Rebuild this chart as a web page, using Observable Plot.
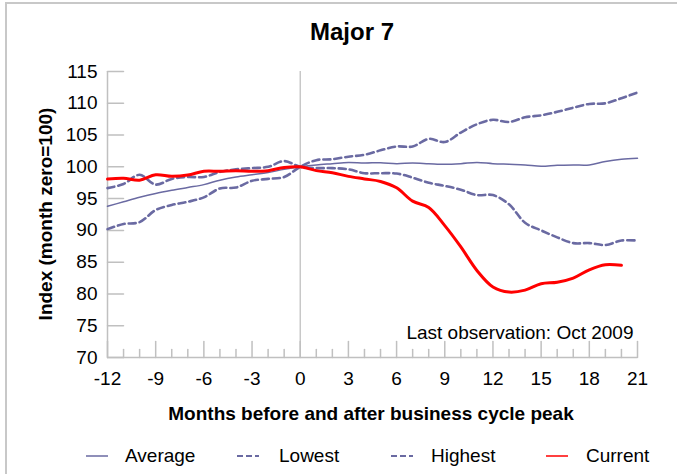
<!DOCTYPE html>
<html><head><meta charset="utf-8">
<script src="https://cdn.jsdelivr.net/npm/d3@7"></script>
<script src="https://cdn.jsdelivr.net/npm/@observablehq/plot@0.6"></script>
<style>
body{margin:0;background:#fff;font-family:"Liberation Sans",Arial,sans-serif;}
#wrap{position:relative;width:677px;height:474px;overflow:hidden;background:#fff;}
#wrap svg{position:absolute;left:0;top:0;}
#border{position:absolute;left:5px;top:2px;width:700px;height:500px;border-top:2px solid #c8c8c8;border-left:2px solid #c8c8c8;}
.t{position:absolute;white-space:nowrap;color:#000;line-height:1;}
</style></head><body>
<div id="wrap">
<div id="border"></div>
</div>
<script>
const months = [-12,-11,-10,-9,-8,-7,-6,-5,-4,-3,-2,-1,0,1,2,3,4,5,6,7,8,9,10,11,12,13,14,15,16,17,18,19,20,21];
const xTicks = [-12,-9,-6,-3,0,3,6,9,12,15,18,21];
const yTicks = [70,75,80,85,90,95,100,105,110,115];
const average = [93.8,94.5,95.2,95.8,96.3,96.75,97.2,97.9,98.4,98.75,99.1,99.6,100,100.3,100.5,100.7,100.6,100.65,100.5,100.6,100.5,100.4,100.5,100.7,100.5,100.4,100.3,100.1,100.25,100.3,100.3,100.85,101.2,101.35];
const lowest = [96.65,97.3,98.75,97.2,98.1,98.4,98.4,99.2,99.6,99.8,100,100.9,100,99.8,99.8,99.6,99.0,99.0,98.95,98.3,97.5,97.0,96.4,95.55,95.55,94.1,91.2,90.0,88.9,88.0,88.0,87.7,88.4,88.4];
const highest = [90.2,91.0,91.3,93.2,94.0,94.5,95.2,96.6,96.75,97.8,98.1,98.4,100,101.05,101.2,101.6,101.9,102.6,103.2,103.2,104.4,103.9,105.4,106.7,107.4,107.05,107.8,108.1,108.65,109.3,109.9,110.0,110.8,111.7];
const current = [98.07,98.2,97.9,98.75,98.5,98.7,99.3,99.3,99.4,99.3,99.4,99.9,100,99.4,99.06,98.5,98.1,97.7,96.7,94.6,93.6,90.75,87.4,83.7,81.1,80.3,80.6,81.6,81.85,82.5,83.8,84.6,84.5];
const seriesNames = ["Average","Lowest","Highest","Current"];

const blue = "#6a6aa2", red = "#ff0000", gray = "#c0c0c0";
const toRows = (vals) => vals.map((v,i) => ({m: months[i], v}));
const rowsAvg = toRows(average), rowsLow = toRows(lowest), rowsHigh = toRows(highest), rowsCur = toRows(current);

// plain tick shape (no arrowhead) for vector marks
const tickShape = {draw(context, l) { context.moveTo(0, 0); context.lineTo(0, -l); }};

const chart = Plot.plot({
  width: 677, height: 474,
  marginLeft: 107, marginRight: 40, marginTop: 71, marginBottom: 117,
  style: {fontFamily: "'Liberation Sans', Arial, sans-serif", fontSize: "19px", color: "#000", background: "transparent", overflow: "visible"},
  x: {domain: [-12, 21]},
  y: {domain: [70, 115]},
  marks: [
    Plot.ruleX([0], {stroke: gray, strokeWidth: 1.3}),
    Plot.ruleX([-12], {stroke: gray, strokeWidth: 1.5}),
    Plot.ruleY([70], {stroke: gray, strokeWidth: 1.5}),
    Plot.vector(yTicks, {x: () => -12, y: d => d, length: () => 10, rotate: () => 90, anchor: "start", shape: tickShape, stroke: gray, strokeWidth: 1.5}),
    Plot.vector(months, {x: d => d, y: 70, length: d => (d % 3 === 0 ? 10 : 5), rotate: 0, anchor: "start", shape: tickShape, stroke: gray, strokeWidth: 1.5}),
    Plot.axisY({ticks: yTicks, tickSize: 0, tickPadding: 10, label: null, tickFormat: d => d}),
    Plot.axisX({ticks: xTicks, tickSize: 0, tickPadding: 14, label: null, tickFormat: d => d}),
    Plot.line(rowsLow, {x: "m", y: "v", stroke: blue, strokeWidth: 2.6, strokeDasharray: "7,4", curve: "catmull-rom"}),
    Plot.line(rowsHigh, {x: "m", y: "v", stroke: blue, strokeWidth: 2.6, strokeDasharray: "7,4", curve: "catmull-rom"}),
    Plot.line(rowsAvg, {x: "m", y: "v", stroke: blue, strokeWidth: 1.5, curve: "catmull-rom"}),
    Plot.line(rowsCur, {x: "m", y: "v", stroke: red, strokeWidth: 3, curve: "catmull-rom"}),
    Plot.text(["Last observation: Oct 2009"], {frameAnchor: "bottom-right", textAnchor: "end", lineAnchor: "bottom", dx: -4, dy: -19, fontSize: 19, fill: "#000"})
  ]
});
const wrap = document.getElementById("wrap");
wrap.appendChild(chart);

function addText(txt, css) {
  const d = document.createElement("div");
  d.className = "t"; d.textContent = txt;
  Object.assign(d.style, css);
  wrap.appendChild(d);
  return d;
}
addText("Major 7", {left: "0px", width: "704px", textAlign: "center", top: "20px", fontSize: "24px", fontWeight: "bold"});
addText("Months before and after business cycle peak", {left: "0px", width: "742px", textAlign: "center", top: "404px", fontSize: "19px", fontWeight: "bold"});
addText("Index (month zero=100)", {left: "45px", top: "214px", fontSize: "19px", fontWeight: "bold", transform: "translate(-50%,-50%) rotate(-90deg)"});

const legendItems = [
  {name: seriesNames[0], color: blue, dash: null, w: 1.5, sx: 86, tx: 125},
  {name: seriesNames[1], color: blue, dash: "6,3", w: 2, sx: 237, tx: 279},
  {name: seriesNames[2], color: blue, dash: "6,3", w: 2, sx: 391, tx: 431},
  {name: seriesNames[3], color: red, dash: null, w: 1.5, sx: 546, tx: 586}
];
legendItems.forEach(it => {
  const s = document.createElementNS("http://www.w3.org/2000/svg", "svg");
  s.setAttribute("width", 22); s.setAttribute("height", 6);
  s.style.position = "absolute"; s.style.left = it.sx + "px"; s.style.top = "453px";
  const l = document.createElementNS("http://www.w3.org/2000/svg", "line");
  l.setAttribute("x1", 0); l.setAttribute("x2", 22); l.setAttribute("y1", 3); l.setAttribute("y2", 3);
  l.setAttribute("stroke", it.color); l.setAttribute("stroke-width", it.w);
  if (it.dash) l.setAttribute("stroke-dasharray", it.dash);
  s.appendChild(l);
  wrap.appendChild(s);
  addText(it.name, {left: it.tx + "px", top: "446px", fontSize: "19px"});
});
</script>
</body></html>
